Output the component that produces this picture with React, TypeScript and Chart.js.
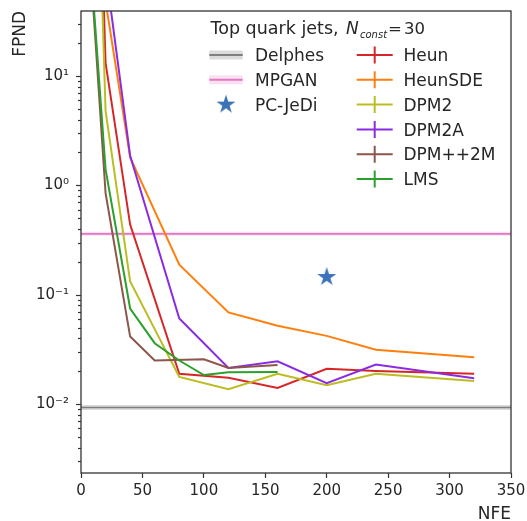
import React, { useEffect, useRef } from "react";
import { Chart, registerables } from "chart.js";

Chart.register(...registerables);

// ---------- data ----------
const heunNfe = [10, 20, 40, 80, 120, 160, 200, 240, 320];
const heunFpnd = [50000, 13.2, 0.438, 0.0189, 0.0174, 0.014, 0.021, 0.02, 0.0189];

const heunSdeNfe = [10, 20, 40, 80, 120, 160, 200, 240, 320];
const heunSdeFpnd = [10000, 48, 1.8, 0.188, 0.0688, 0.052, 0.042, 0.0314, 0.0268];

const dpm2Nfe = [10, 20, 40, 80, 120, 160, 200, 240, 320];
const dpm2Fpnd = [20000, 4.8, 0.132, 0.0177, 0.01366, 0.0189, 0.01486, 0.0189, 0.0162];

const dpm2aNfe = [10, 20, 40, 80, 120, 160, 200, 240, 320];
const dpm2aFpnd = [10000, 94, 1.86, 0.0606, 0.0214, 0.0246, 0.0155, 0.023, 0.0172];

const dpmpp2mNfe = [10, 20, 40, 60, 100, 120, 160];
const dpmpp2mFpnd = [42, 0.85, 0.0414, 0.025, 0.0257, 0.0214, 0.0227];

const lmsNfe = [10, 20, 40, 60, 80, 100, 120, 160];
const lmsFpnd = [50, 1.4, 0.0747, 0.036, 0.025, 0.0184, 0.0195, 0.0196];

const delphesFpnd = 0.0093;
const mpganFpnd = 0.36;

const pcJediNfe = [200];
const pcJediFpnd = [0.145];

const xMin = 0;
const xMax = 350;
const xStep = 50;
const yMin = 0.00234;
const yMax = 39.3;
const yTickDecades = [0.01, 0.1, 1, 10];
const yTickLabels = ["10\u207B\u00B2", "10\u207B\u00B9", "10\u2070", "10\u00B9"];

const legendTitle = "Top quark jets,";
const legendTitleMath = "N";
const legendTitleSub = "const";
const legendTitleEq = "=";
const legendTitleValue = "30";

// ---------- styles ----------
const FONT = '"DejaVu Sans", sans-serif';
const TEXT = "#262626";
const AXIS = "#333333";

const series = [
  { label: "Heun", color: "#d62728", nfe: heunNfe, fpnd: heunFpnd },
  { label: "HeunSDE", color: "#ff7f0e", nfe: heunSdeNfe, fpnd: heunSdeFpnd },
  { label: "DPM2", color: "#bcbd22", nfe: dpm2Nfe, fpnd: dpm2Fpnd },
  { label: "DPM2A", color: "#8a2be2", nfe: dpm2aNfe, fpnd: dpm2aFpnd },
  { label: "DPM++2M", color: "#8c564b", nfe: dpmpp2mNfe, fpnd: dpmpp2mFpnd },
  { label: "LMS", color: "#2ca02c", nfe: lmsNfe, fpnd: lmsFpnd },
];

const DELPHES_COLOR = "#7f7f7f";
const DELPHES_BAND = "rgba(127,127,127,0.28)";
const MPGAN_COLOR = "#e377c2";
const MPGAN_BAND = "rgba(227,119,194,0.22)";
const STAR_COLOR = "#3b72b8";

function makeStar(R: number, color: string): HTMLCanvasElement {
  const size = Math.ceil(R * 2 + 2);
  const c = document.createElement("canvas");
  c.width = size;
  c.height = size;
  const g = c.getContext("2d")!;
  const cx = size / 2;
  const cy = size / 2;
  const r = R * 0.381966;
  g.beginPath();
  for (let i = 0; i < 10; i++) {
    const ang = -Math.PI / 2 + (i * Math.PI) / 5;
    const rad = i % 2 === 0 ? R : r;
    const px = cx + rad * Math.cos(ang);
    const py = cy + rad * Math.sin(ang);
    if (i === 0) g.moveTo(px, py);
    else g.lineTo(px, py);
  }
  g.closePath();
  g.fillStyle = color;
  g.fill();
  return c;
}

function yTickValues(): number[] {
  const out: number[] = [];
  for (let e = -3; e <= 1; e++) {
    for (let m = 1; m <= 9; m++) {
      const v = m * Math.pow(10, e);
      if (v >= yMin && v <= yMax) out.push(v);
    }
  }
  return out;
}

function decadeIndex(v: number): number {
  return yTickDecades.findIndex((d) => Math.abs(d - v) / d < 1e-6);
}

export default function App() {
  const ref = useRef<HTMLCanvasElement | null>(null);

  useEffect(() => {
    if (!ref.current) return;
    const star = makeStar(10, STAR_COLOR);

    const framePlugin = {
      id: "frameAndLegend",
      afterDraw(chart: any) {
        const ctx = chart.ctx as CanvasRenderingContext2D;
        const a = chart.chartArea;
        const ys = chart.scales.y;
        ctx.save();
        // y ticks
        ctx.strokeStyle = AXIS;
        ctx.lineWidth = 1.2;
        for (const v of yTickValues()) {
          const py = Math.round(ys.getPixelForValue(v)) + 0.5;
          const len = decadeIndex(v) >= 0 ? 5 : 3;
          ctx.beginPath();
          ctx.moveTo(a.left - len, py);
          ctx.lineTo(a.left, py);
          ctx.stroke();
        }
        // frame
        ctx.lineWidth = 1.3;
        ctx.strokeRect(a.left, a.top, a.right - a.left, a.bottom - a.top);

        // legend title
        ctx.fillStyle = TEXT;
        ctx.textAlign = "left";
        ctx.textBaseline = "alphabetic";
        const by = 34.3;
        ctx.font = `17.5px ${FONT}`;
        ctx.fillText(legendTitle, 210.5, by);
        ctx.font = `italic 17px ${FONT}`;
        ctx.fillText(legendTitleMath, 346, by);
        ctx.font = `italic 10px ${FONT}`;
        ctx.fillText(legendTitleSub, 360, by + 4);
        ctx.font = `16.5px ${FONT}`;
        ctx.fillText(legendTitleEq, 388, by);
        ctx.fillText(legendTitleValue, 404, by);

        // column 1
        ctx.font = `17px ${FONT}`;
        const rowY = (i: number) => 55 + i * 24.8;
        const c1x0 = 209.3;
        const c1x1 = 242.7;
        const c1t = 255;
        const bands = [
          { label: "Delphes", line: DELPHES_COLOR, band: DELPHES_BAND },
          { label: "MPGAN", line: MPGAN_COLOR, band: MPGAN_BAND },
        ];
        bands.forEach((b, i) => {
          const cy = rowY(i);
          ctx.fillStyle = b.band;
          ctx.fillRect(c1x0, cy - 4.5, c1x1 - c1x0, 9);
          ctx.strokeStyle = b.line;
          ctx.lineWidth = 2;
          ctx.beginPath();
          ctx.moveTo(c1x0, cy);
          ctx.lineTo(c1x1, cy);
          ctx.stroke();
          ctx.fillStyle = TEXT;
          ctx.fillText(b.label, c1t, cy + 6.2);
        });
        {
          const cy = rowY(2);
          ctx.drawImage(star, (c1x0 + c1x1) / 2 - star.width / 2, cy - star.height / 2);
          ctx.fillStyle = TEXT;
          ctx.fillText("PC-JeDi", c1t, cy + 6.2);
        }
        // column 2
        const c2x0 = 356.7;
        const c2x1 = 392.7;
        const c2t = 403.5;
        series.forEach((s, i) => {
          const cy = rowY(i);
          ctx.strokeStyle = s.color;
          ctx.lineWidth = 2;
          ctx.beginPath();
          ctx.moveTo(c2x0, cy);
          ctx.lineTo(c2x1, cy);
          const mx = (c2x0 + c2x1) / 2;
          ctx.moveTo(mx, cy - 8.5);
          ctx.lineTo(mx, cy + 8.5);
          ctx.stroke();
          ctx.fillStyle = TEXT;
          ctx.fillText(s.label, c2t, cy + 6.2);
        });
        ctx.restore();
      },
    };

    const hline = (y: number) => [
      { x: xMin, y },
      { x: xMax, y },
    ];

    const datasets: any[] = [
      {
        label: "Delphes band",
        data: hline(delphesFpnd),
        borderColor: DELPHES_BAND,
        borderWidth: 5,
        pointRadius: 0,
        order: 20,
      },
      {
        label: "Delphes",
        data: hline(delphesFpnd),
        borderColor: DELPHES_COLOR,
        borderWidth: 1.6,
        pointRadius: 0,
        order: 19,
      },
      {
        label: "MPGAN band",
        data: hline(mpganFpnd),
        borderColor: MPGAN_BAND,
        borderWidth: 4,
        pointRadius: 0,
        order: 18,
      },
      {
        label: "MPGAN",
        data: hline(mpganFpnd),
        borderColor: MPGAN_COLOR,
        borderWidth: 1.6,
        pointRadius: 0,
        order: 17,
      },
      {
        label: "PC-JeDi",
        data: pcJediNfe.map((n, i) => ({ x: n, y: pcJediFpnd[i] })),
        showLine: false,
        pointStyle: star,
        pointRadius: 10,
        order: 16,
      },
      ...series.map((s, k) => ({
        label: s.label,
        data: s.nfe.map((n, i) => ({ x: n, y: s.fpnd[i] })),
        borderColor: s.color,
        backgroundColor: s.color,
        borderWidth: 2,
        pointRadius: 0,
        tension: 0,
        order: 10 - k,
      })),
    ];

    const chart = new Chart(ref.current, {
      type: "line",
      data: { datasets },
      options: {
        animation: false,
        responsive: false,
        devicePixelRatio: 1,
        layout: { padding: { left: 0, right: 16, top: 6, bottom: 0 } },
        plugins: {
          legend: { display: false },
          tooltip: { enabled: false },
        },
        scales: {
          x: {
            type: "linear",
            min: xMin,
            max: xMax,
            afterFit: (s: any) => {
              s.height = 48;
              s.paddingLeft = 0;
              s.paddingRight = 0;
            },
            ticks: {
              stepSize: xStep,
              autoSkip: false,
              maxRotation: 0,
              padding: 4.5,
              color: TEXT,
              font: { family: FONT, size: 15 },
            },
            grid: {
              drawOnChartArea: false,
              drawTicks: true,
              tickLength: 5,
              tickColor: AXIS,
              tickWidth: 1.2,
            },
            border: { display: false },
            title: {
              display: true,
              text: "NFE",
              align: "end",
              color: TEXT,
              font: { family: FONT, size: 17, lineHeight: 0.76 },
              padding: { top: 0, bottom: 0 },
            },
          },
          y: {
            type: "logarithmic",
            min: yMin,
            max: yMax,
            afterFit: (s: any) => {
              s.width = 81;
              s.paddingTop = 0;
              s.paddingBottom = 0;
            },
            afterBuildTicks: (s: any) => {
              s.ticks = yTickValues().map((v) => ({ value: v }));
            },
            ticks: {
              autoSkip: false,
              padding: 7,
              color: TEXT,
              font: { family: FONT, size: 15 },
              callback: (v: any) => {
                const idx = decadeIndex(Number(v));
                return idx >= 0 ? yTickLabels[idx] : null;
              },
            },
            grid: {
              drawOnChartArea: false,
              drawTicks: true,
              tickLength: 5,
              tickColor: "rgba(0,0,0,0)",
            },
            border: { display: false },
            title: {
              display: true,
              text: "FPND",
              align: "end",
              color: TEXT,
              font: { family: FONT, size: 17, lineHeight: 1 },
              padding: { top: 11.9, bottom: 0 },
            },
          },
        },
      } as any,
      plugins: [framePlugin as any],
    });

    return () => chart.destroy();
  }, []);

  return (
    <div style={{ position: "absolute", left: 0, top: 0, width: 527, height: 521 }}>
      <canvas ref={ref} width={527} height={521} style={{ width: 527, height: 521 }} />
    </div>
  );
}
